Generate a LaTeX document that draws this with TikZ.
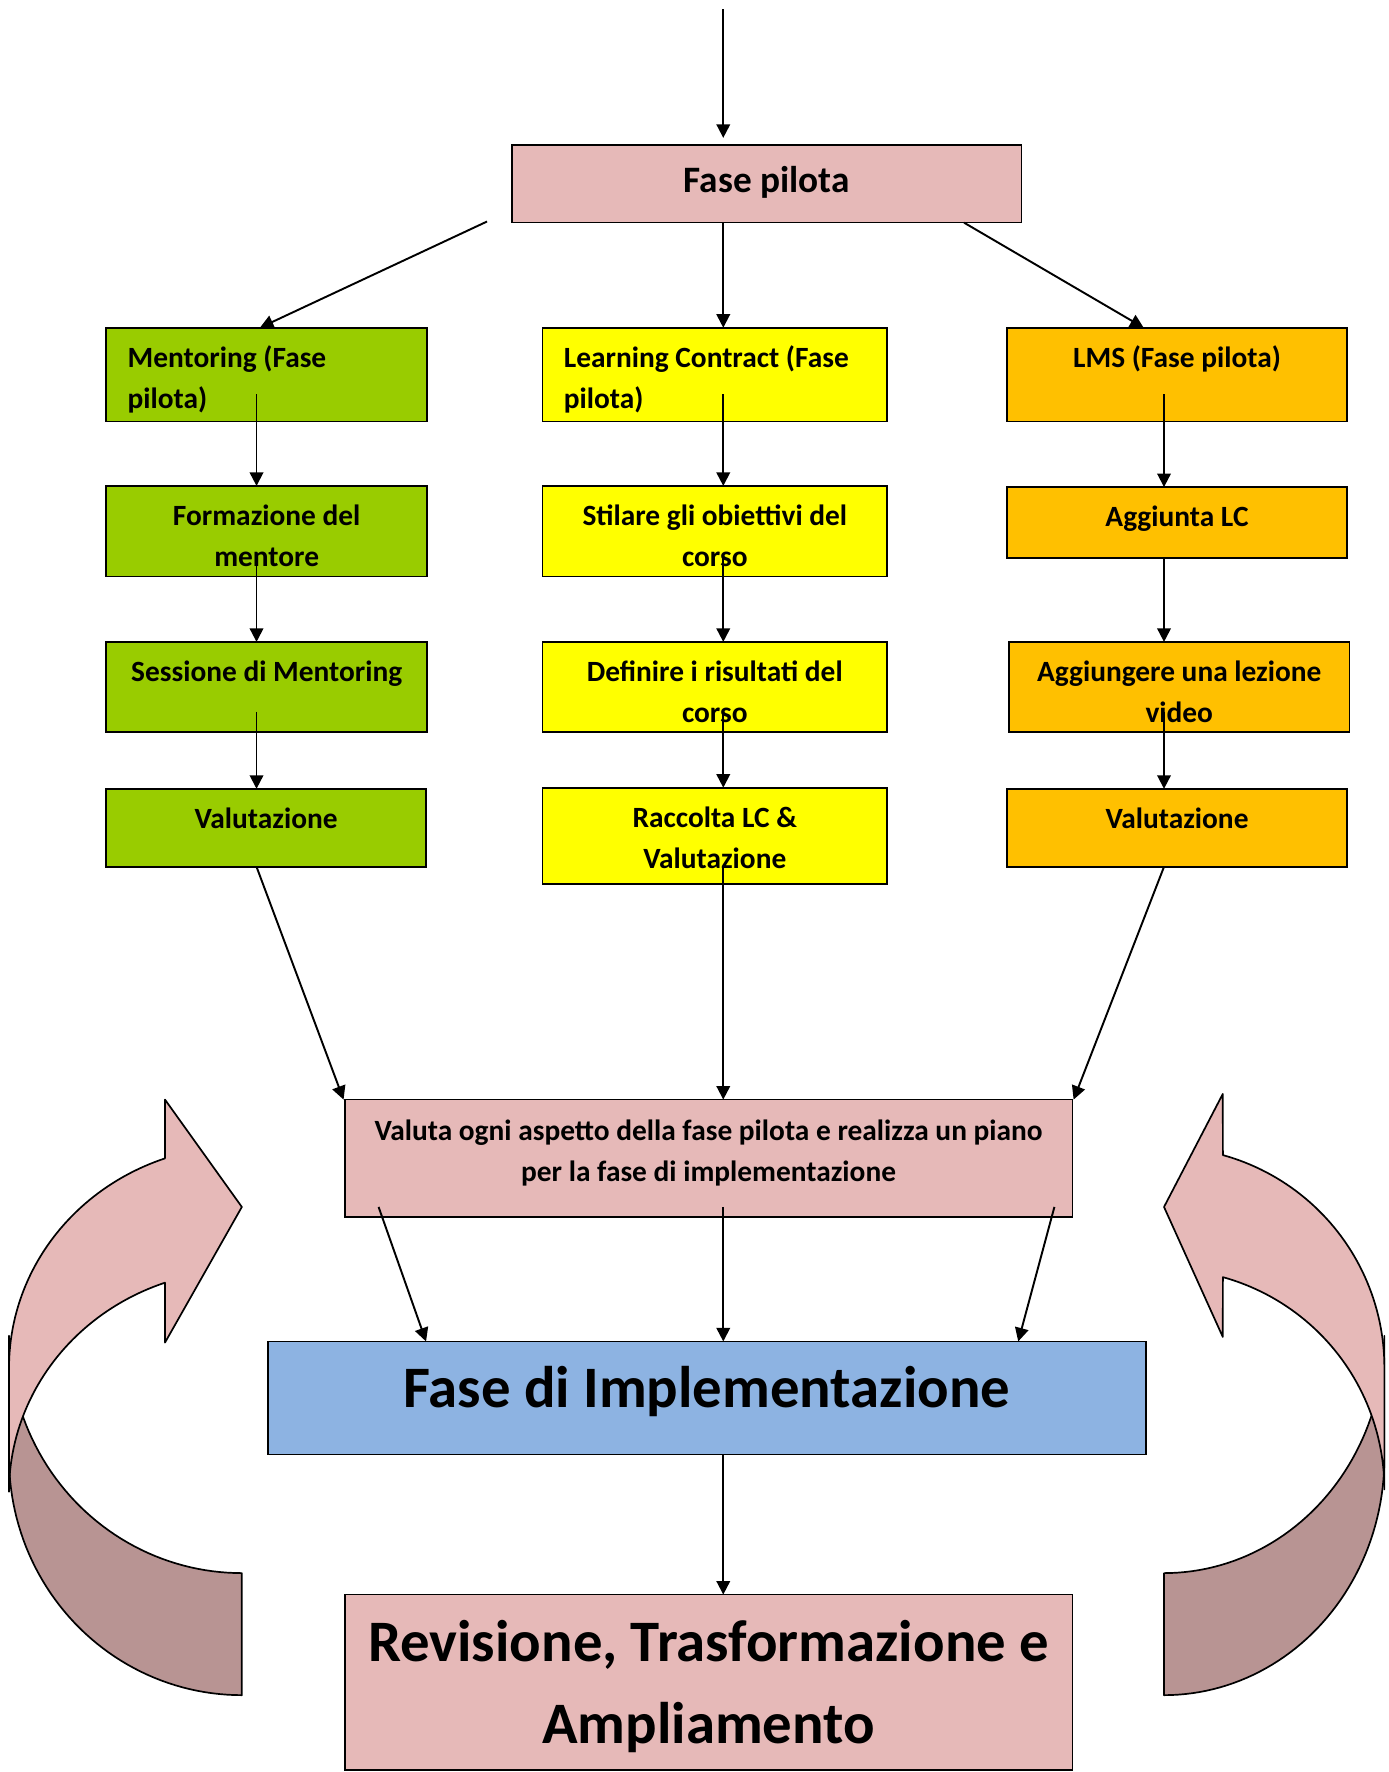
\documentclass[tikz,border=0pt]{standalone}
\usepackage{fontspec}
\setmainfont{Carlito}
\usetikzlibrary{arrows.meta,calc}
\definecolor{pinkc}{HTML}{E6B9B8}
\definecolor{greenc}{HTML}{99CC00}
\definecolor{yellowc}{HTML}{FFFF00}
\definecolor{orangec}{HTML}{FFC000}
\definecolor{bluec}{HTML}{8DB3E2}
\definecolor{darkc}{HTML}{B89493}
\newcommand\fA{\fontsize{26}{36}\selectfont\bfseries}
\newcommand\fV{\fontsize{26}{37}\selectfont\bfseries}
\newcommand\fB{\fontsize{33}{46}\selectfont\bfseries}
\newcommand\fC{\fontsize{52}{72}\selectfont\bfseries}
% width, height, top space, content
\newcommand\bt[4]{\parbox[c][#2pt][t]{#1pt}{\vspace*{#3pt}#4}}
\newcommand\Lft{\raggedright\leftskip=19pt\relax}
\tikzset{
  box/.style={draw=black, line width=1.5pt, inner sep=0pt, outer sep=0pt, anchor=north west},
  arr/.style={line width=1.7pt, -{Triangle[length=12pt,width=12pt]}},
  band/.style={draw=black, line width=1.5pt, line join=round}
}
\begin{document}
\begin{tikzpicture}[x=1pt,y=-1pt]
\useasboundingbox (0,0) rectangle (1229,1568);

% curved arrows
\filldraw[band, fill=darkc] plot[domain=180:90, samples=50] ({214+206*cos(\x)},{1290+210*sin(\x)})
  -- plot[domain=90:180, samples=50] ({214+206*cos(\x)},{1182+210*sin(\x)}) -- cycle;
\filldraw[band, fill=pinkc] plot[domain=250.7:180, samples=50] ({214+206*cos(\x)},{1210+196*sin(\x)})
  -- plot[domain=180:250.7, samples=50] ({214+206*cos(\x)},{1320+196*sin(\x)})
  -- (146,1188) -- (214,1068) -- (146,973) -- cycle;

\filldraw[band, fill=darkc] plot[domain=180:90, samples=50] ({1030-195*cos(\x)},{1290+210*sin(\x)})
  -- plot[domain=90:180, samples=50] ({1030-195*cos(\x)},{1182+210*sin(\x)}) -- cycle;
\filldraw[band, fill=pinkc] plot[domain=254.5:180, samples=50] ({1030-195*cos(\x)},{1210+195*sin(\x)})
  -- plot[domain=180:254.5, samples=50] ({1030-195*cos(\x)},{1318+195*sin(\x)})
  -- (1082,1183) -- (1030,1068) -- (1082,968) -- cycle;

% boxes
\node[box, fill=pinkc] (fp) at (453,128) {\bt{451}{69}{10}{\fB\centering\strut Fase pilota}};

\node[box, fill=greenc] (m1) at (94,290) {\bt{284}{83}{10}{\fA\Lft\strut Mentoring (Fase\\pilota)}};
\node[box, fill=greenc] (m2) at (94,430) {\bt{284}{80}{10}{\fA\centering\strut Formazione del\\mentore}};
\node[box, fill=greenc] (m3) at (94,568) {\bt{284}{80}{10}{\fA\centering\strut Sessione di Mentoring}};
\node[box, fill=greenc] (m4) at (94,698) {\bt{283}{69}{10}{\fA\centering\strut Valutazione}};

\node[box, fill=yellowc] (l1) at (480,290) {\bt{305}{83}{10}{\fA\Lft\strut Learning Contract (Fase\\pilota)}};
\node[box, fill=yellowc] (l2) at (480,430) {\bt{305}{80}{10}{\fA\centering\strut Stilare gli obiettivi del\\corso}};
\node[box, fill=yellowc] (l3) at (480,568) {\bt{305}{80}{10}{\fA\centering\strut Definire i risultati del\\corso}};
\node[box, fill=yellowc] (l4) at (480,697) {\bt{305}{85}{10}{\fA\centering\strut Raccolta LC \&\\Valutazione}};

\node[box, fill=orangec] (o1) at (891,290) {\bt{301}{83}{10}{\fA\centering\strut LMS (Fase pilota)}};
\node[box, fill=orangec] (o2) at (891,431) {\bt{301}{63}{10}{\fA\centering\strut Aggiunta LC}};
\node[box, fill=orangec] (o3) at (893,568) {\bt{301}{80}{10}{\fA\centering\strut Aggiungere una lezione\\video}};
\node[box, fill=orangec] (o4) at (891,698) {\bt{301}{69}{10}{\fA\centering\strut Valutazione}};

\node[box, fill=pinkc] (v) at (305,973) {\bt{644}{104}{10}{\fV\centering\strut Valuta ogni aspetto della fase pilota e realizza un piano\\per la fase di implementazione}};
\node[box, fill=bluec] (im) at (237,1187) {\bt{777}{100}{8}{\fC\centering\strut Fase di Implementazione}};
\node[box, fill=pinkc] (rv) at (305,1411) {\bt{644}{155}{9}{\fC\centering\strut Revisione, Trasformazione e\\Ampliamento}};

% connectors
\coordinate (start) at (640,8);
\draw[arr, shorten >=6pt] (start) -- (start |- fp.north);
\coordinate (fpl) at ([xshift=-22pt,yshift=1pt]fp.south west);
\draw[arr] (fpl) -- ([xshift=-6pt]m1.north);
\draw[arr] ([xshift=-38.5pt]fp.south) -- ([xshift=7.5pt]l1.north);
\draw[arr] ([xshift=174.5pt]fp.south) -- ([xshift=-29.5pt]o1.north);

\draw[arr] ([xshift=-9pt,yshift=24pt]m1.south) -- ([xshift=-9pt]m2.north);
\draw[arr] ([xshift=-9pt,yshift=20pt]m2.south) -- ([xshift=-9pt]m3.north);
\draw[arr] ([xshift=-9pt,yshift=18pt]m3.south) -- ([xshift=-8.5pt]m4.north);

\draw[arr] ([xshift=7.5pt,yshift=24pt]l1.south) -- ([xshift=7.5pt]l2.north);
\draw[arr] ([xshift=7.5pt,yshift=20pt]l2.south) -- ([xshift=7.5pt]l3.north);
\draw[arr] ([xshift=7.5pt,yshift=18pt]l3.south) -- ([xshift=7.5pt]l4.north);
\draw[arr] ([xshift=7.5pt,yshift=14pt]l4.south) -- ([xshift=13pt]v.north);

\draw[arr] ([xshift=-11.5pt,yshift=24pt]o1.south) -- ([xshift=-11.5pt]o2.north);
\draw[arr] ([xshift=-11.5pt]o2.south) -- ([xshift=-13.5pt]o3.north);
\draw[arr] ([xshift=-13.5pt,yshift=18pt]o3.south) -- ([xshift=-11.5pt]o4.north);

\draw[arr] ([xshift=-8.5pt]m4.south) -- ([xshift=-1pt]v.north west);
\draw[arr] ([xshift=-11.5pt]o4.south) -- ([xshift=1pt]v.north east);

\draw[arr] ([xshift=30pt,yshift=9pt]v.south west) -- ([xshift=140pt]im.north west);
\draw[arr] ([xshift=13pt,yshift=9pt]v.south) -- ([xshift=14.5pt]im.north);
\draw[arr] ([xshift=-16pt,yshift=9pt]v.south east) -- ([xshift=-113pt]im.north east);

\draw[arr] ([xshift=14.5pt]im.south) -- ([xshift=13pt]rv.north);
\end{tikzpicture}
\end{document}
